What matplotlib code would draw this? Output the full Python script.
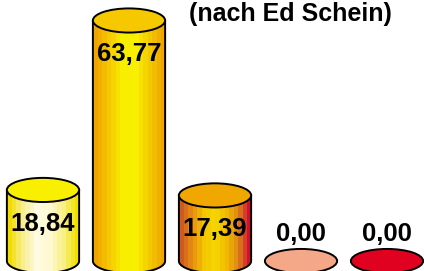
import numpy as np
import matplotlib
matplotlib.use('Agg')
import matplotlib.pyplot as plt
from matplotlib.patches import Ellipse, PathPatch
from matplotlib.path import Path
from matplotlib.colors import LinearSegmentedColormap

# Werte und Beschriftungen
values = [18.84, 63.77, 17.39, 0.00, 0.00]
labels = ['18,84', '63,77', '17,39', '0,00', '0,00']
title = '(nach Ed Schein)'

# Farbverlaeufe der Zylinder (links -> rechts) und Deckelfarben
body_colors = [
    ['#f2dc00', '#f8ee90', '#fffbe2', '#fff8d0', '#f8f080', '#f0e000'],
    ['#f0a400', '#f5c800', '#f8ee00', '#f8f000', '#f3c800', '#f0a400'],
    ['#cf5a20', '#e89010', '#f3c600', '#f6d800', '#f0b800', '#dc8818', '#d01030'],
    ['#f5a888'],
    ['#e00020'],
]
top_colors = ['#f8f000', '#f5c800', '#f0a800', '#f5a888', '#e00020']

plt.rcParams['font.family'] = ['Liberation Sans', 'DejaVu Sans']

fig = plt.figure(figsize=(4.24, 2.71), dpi=100)
ax = fig.add_axes([0, 0, 1, 1])
ax.set_xlim(-0.5, 4.43)
ax.set_ylim(-2.65, 69.2)
ax.axis('off')

w = 0.84    # Zylinderbreite
eh = 6.4    # Hoehe der Ellipse (Datenwerte)

for i, v in enumerate(values):
    x0, x1 = i - w / 2, i + w / 2
    if v > 0:
        # Mantel: Rechteck + untere Halbellipse
        t = np.linspace(np.pi, 2 * np.pi, 60)
        arc = np.column_stack([i + w / 2 * np.cos(t), eh / 2 * np.sin(t)])
        verts = np.vstack([[x0, v], [x0, 0], arc, [x1, 0], [x1, v], [x0, v]])
        path = Path(verts, closed=False)
        cmap = LinearSegmentedColormap.from_list('c%d' % i, body_colors[i])
        grad = np.linspace(0, 1, 16).reshape(1, -1)
        im = ax.imshow(grad, cmap=cmap, aspect='auto', interpolation='nearest',
                       extent=[x0, x1, -eh, v], zorder=1)
        clip = PathPatch(path, transform=ax.transData, facecolor='none',
                         edgecolor='none')
        ax.add_patch(clip)
        im.set_clip_path(clip)
        outline = np.vstack([[x0, v], [x0, 0], arc, [x1, 0], [x1, v]])
        ax.plot(outline[:, 0], outline[:, 1], color='black', lw=1.4, zorder=2)
    ax.add_patch(Ellipse((i, v), w, eh, facecolor=top_colors[i],
                         edgecolor='black', lw=1.4, zorder=3))
    ly = v - 9.0 if v > 0 else 7.2
    ax.text(i, ly, labels[i], ha='center', va='center', fontsize=18.5,
            fontweight='bold', color='black', zorder=4)

fig.text(290 / 424, 1 - 21 / 271, title, ha='center', va='baseline',
         fontsize=18, fontweight='bold')

fig.savefig('out.png', dpi=100)
